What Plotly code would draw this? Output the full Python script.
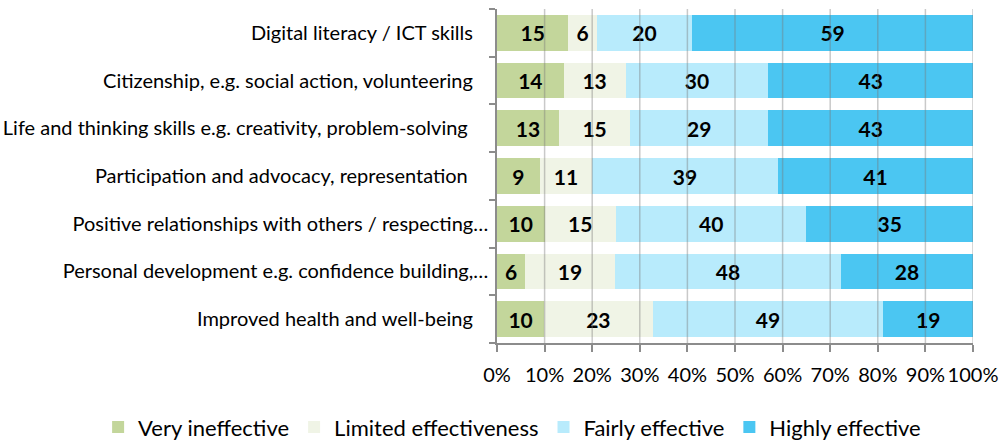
import plotly.graph_objects as go

categories = [
    "Digital literacy / ICT skills",
    "Citizenship, e.g. social action, volunteering",
    "Life and thinking skills e.g. creativity, problem-solving ",
    "Participation and advocacy, representation ",
    "Positive relationships with others / respecting…",
    "Personal development e.g. confidence building,…",
    "Improved health and well-being",
]
very_ineffective = [15, 14, 13, 9, 10, 6, 10]
limited_effectiveness = [6, 13, 15, 11, 15, 19, 23]
fairly_effective = [20, 30, 29, 39, 40, 48, 49]
highly_effective = [59, 43, 43, 41, 35, 28, 19]
x_ticks = list(range(0, 101, 10))

series = [
    ("Very ineffective", very_ineffective, "#C3D69B"),
    ("Limited effectiveness", limited_effectiveness, "#F0F4E6"),
    ("Fairly effective", fairly_effective, "#B8EBFC"),
    ("Highly effective", highly_effective, "#4BC6F2"),
]

# labels padded like the original (Excel keeps trailing space for untruncated labels)
NB = "\u00a0"
y_ticktext = [c if c.endswith("…") else c.rstrip() + NB * (4 if c.endswith(" ") else 3)
              for c in categories]

FONT = "Lato"
fig = go.Figure()
for name, vals, col in series:
    fig.add_trace(go.Bar(
        y=categories, x=vals, name=name, orientation="h",
        marker=dict(color=col, line=dict(width=0)),
        text=[str(v) for v in vals], textposition="inside",
        insidetextanchor="middle", textangle=0,
        textfont=dict(family=FONT, size=21, color="black", weight="bold"),
    ))

for v in x_ticks[1:]:
    fig.add_shape(type="line", xref="x", yref="paper", x0=v, x1=v, y0=0, y1=1,
                  line=dict(color="rgba(120,120,120,0.4)", width=1.5), layer="above")

fig.update_layout(
    width=1002, height=442,
    barmode="stack", barnorm="percent", bargap=0.25,
    margin=dict(l=497, r=29, t=9, b=99, autoexpand=False),
    plot_bgcolor="white", paper_bgcolor="white",
    font=dict(family=FONT, size=20, color="black"),
    showlegend=True,
    legend=dict(orientation="h", xref="paper", yref="paper",
                x=-0.838, y=-0.252, xanchor="left", yanchor="middle",
                font=dict(family=FONT, size=22), traceorder="normal",
                itemwidth=30, bgcolor="rgba(0,0,0,0)"),
    xaxis=dict(range=[0, 100], tickvals=x_ticks, ticktext=[f"{v}%" for v in x_ticks],
               showgrid=False, showline=True, linecolor="#8C8C8C", linewidth=1.5,
               ticks="outside", ticklen=7, tickcolor="#8C8C8C", tickwidth=1.5,
               tickfont=dict(family=FONT, size=20), ticklabelstandoff=6,
               zeroline=False, automargin=False),
    yaxis=dict(autorange="reversed", showline=True, linecolor="#8C8C8C", linewidth=1.5,
               ticks="outside", ticklen=6, tickcolor="#8C8C8C", tickwidth=1.5,
               tickson="boundaries", showgrid=False, ticklabelstandoff=3,
               tickmode="array", tickvals=categories, ticktext=y_ticktext,
               tickfont=dict(family=FONT, size=20), automargin=False),
)

fig.write_html("out.html", config={"displayModeBar": False},
               post_script="document.body.style.margin='0';")
